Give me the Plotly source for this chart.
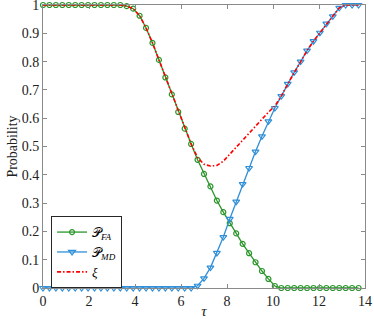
import plotly.graph_objects as go

tau = [0.00, 0.28, 0.56, 0.84, 1.12, 1.40, 1.68, 1.96, 2.24, 2.52,
       2.80, 3.08, 3.36, 3.64, 3.92, 4.20, 4.48, 4.76, 5.04, 5.32,
       5.60, 5.88, 6.16, 6.44, 6.72, 7.00, 7.28, 7.56, 7.84, 8.12,
       8.40, 8.68, 8.96, 9.24, 9.52, 9.80, 10.08, 10.36, 10.64, 10.92,
       11.20, 11.48, 11.76, 12.04, 12.32, 12.60, 12.88, 13.16, 13.44, 13.72]

p_fa = [1, 1, 1, 1, 1, 1, 1, 1, 1, 1,
        1, 1, 1, 0.996, 0.987, 0.962, 0.919, 0.866, 0.806, 0.744,
        0.684, 0.622, 0.563, 0.509, 0.453, 0.403, 0.359, 0.309, 0.268, 0.229,
        0.193, 0.156, 0.123, 0.091, 0.060, 0.032, 0.007, 0, 0, 0,
        0, 0, 0, 0, 0, 0, 0, 0, 0, 0]

p_md = [0, 0, 0, 0, 0, 0, 0, 0, 0, 0,
        0, 0, 0, 0, 0, 0, 0, 0, 0, 0,
        0, 0, 0, 0, 0.008, 0.034, 0.072, 0.124, 0.180, 0.244,
        0.305, 0.367, 0.424, 0.482, 0.536, 0.589, 0.636, 0.678, 0.721, 0.762,
        0.800, 0.839, 0.872, 0.902, 0.934, 0.960, 0.990, 1, 1, 1]

xi = [1, 1, 1, 1, 1, 1, 1, 1, 1, 1,
      1, 1, 1, 0.996, 0.987, 0.962, 0.919, 0.866, 0.806, 0.744,
      0.684, 0.622, 0.563, 0.509, 0.461, 0.437, 0.431, 0.433, 0.448, 0.473,
      0.498, 0.523, 0.547, 0.573, 0.596, 0.621, 0.643, 0.678, 0.721, 0.762,
      0.800, 0.839, 0.872, 0.902, 0.934, 0.960, 0.990, 1, 1, 1]

x_ticks = [0, 2, 4, 6, 8, 10, 12, 14]
y_ticks = [0, 0.1, 0.2, 0.3, 0.4, 0.5, 0.6, 0.7, 0.8, 0.9, 1]
y_tick_labels = ["0", "0.1", "0.2", "0.3", "0.4", "0.5", "0.6", "0.7", "0.8", "0.9", "1"]

green = "#2a962a"
blue = "#2f8fd8"
red = "#ff0000"
serif = "Liberation Serif, Times New Roman, serif"

fig = go.Figure()
fig.add_trace(go.Scatter(
    x=tau, y=p_fa, mode="lines+markers", name="𝒫<sub><i>FA</i></sub>",
    line=dict(color=green, width=1.3),
    marker=dict(symbol="circle-open", size=5, color=green, line=dict(width=1.2)),
    cliponaxis=False))
fig.add_trace(go.Scatter(
    x=tau, y=p_md, mode="lines+markers", name="𝒫<sub><i>MD</i></sub>",
    line=dict(color=blue, width=1.3),
    marker=dict(symbol="triangle-down-open", size=6, color=blue, line=dict(width=1.2)),
    cliponaxis=False))
fig.add_trace(go.Scatter(
    x=tau, y=xi, mode="lines", name="<i>ξ</i>",
    line=dict(color=red, width=1.6, dash="4px,2px,1.5px,2px"),
    cliponaxis=False))

axis_common = dict(
    showline=True, linecolor="#8a8a8a", linewidth=1, mirror="ticks",
    ticks="inside", ticklen=4, tickcolor="#8a8a8a", showgrid=False, zeroline=False,
    tickfont=dict(family=serif, size=14, color="#222222"),
    automargin=False, ticklabeloverflow="allow",
)

fig.update_xaxes(range=[0, 14], tickvals=x_ticks,
                 title=dict(text="<i>τ</i>", font=dict(family=serif, size=15, color="#222222"), standoff=0),
                 **axis_common)
fig.update_yaxes(range=[0, 1], tickvals=y_ticks, ticktext=y_tick_labels,
                 title=dict(text="Probability", font=dict(family=serif, size=14, color="#222222"), standoff=0),
                 **axis_common)

fig.update_layout(
    width=374, height=319,
    margin=dict(l=43, r=9, t=5, b=31, autoexpand=False),
    plot_bgcolor="white", paper_bgcolor="white",
    legend=dict(x=0.025, y=0.254, xanchor="left", yanchor="top",
                bgcolor="white", bordercolor="#262626", borderwidth=1,
                font=dict(family=serif, size=13, color="black"),
                itemwidth=30, tracegroupgap=0),
    showlegend=True,
)

fig.write_html("out.html",
               config={"displayModeBar": False},
               post_script="document.body.style.margin='0';document.body.style.overflow='hidden';")
